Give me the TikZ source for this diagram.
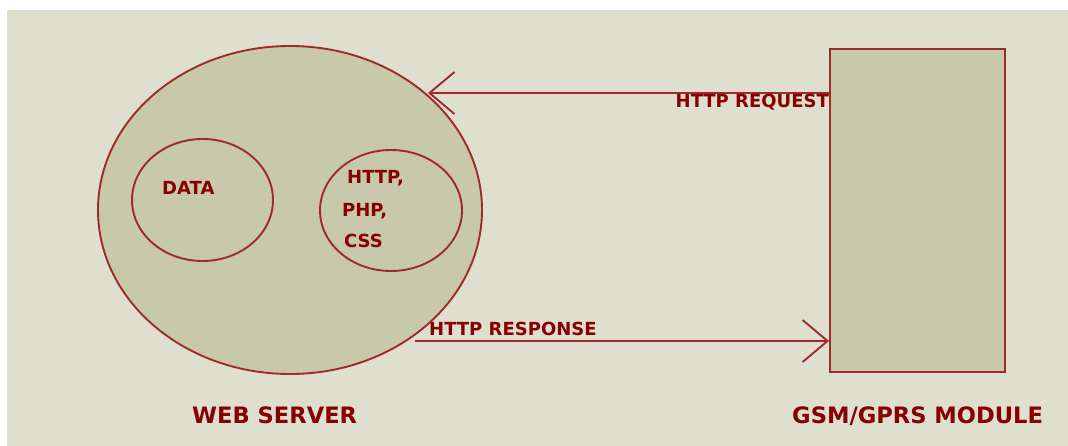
\documentclass[tikz,border=0pt]{standalone}
\usepackage{fontspec}
\setmainfont{DejaVu Sans}
\usetikzlibrary{shapes.geometric,arrows.meta}
\definecolor{bgc}{HTML}{DFDFD0}
\definecolor{fillc}{HTML}{C8C8AA}
\definecolor{linec}{HTML}{A02A2A}
\definecolor{textc}{HTML}{880000}
\tikzset{
  shapeline/.style={draw=linec, line width=1.9pt, fill=fillc, inner sep=0pt},
  inner/.style={draw=linec, line width=1.9pt, inner sep=0pt, ellipse},
  lbl/.style={text=textc, inner sep=0pt, font=\bfseries\fontsize{18}{20}\selectfont},
  biglbl/.style={text=textc, inner sep=0pt, font=\bfseries\fontsize{22.6}{24}\selectfont},
  conn/.style={draw=linec, line width=1.9pt, -{Straight Barb[length=25pt,width=42pt,line width=1.9pt]}}
}
\begin{document}
\begin{tikzpicture}[x=1pt,y=-1pt]
\useasboundingbox (0,0) rectangle (1068,446);
\fill[white] (0,0) rectangle (1068,446);
\fill[bgc] (7,10) rectangle (1068,446);
% web server
\node[shapeline, ellipse, minimum width=384pt, minimum height=328pt] (server) at (290,210) {};
\node[inner, minimum width=141pt, minimum height=122pt] (data) at (202.5,200) {};
\node[inner, minimum width=142pt, minimum height=121pt] (code) at (391,210.5) {};
\node[lbl, anchor=base west] (datat) at (162,195) {DATA};
\node[lbl, anchor=base west] (httpt) at (347,184) {HTTP,};
\node[lbl, anchor=base west] (phpt) at (342,216.5) {PHP,};
\node[lbl, anchor=base west] (csst) at (344,248) {CSS};
% module
\node[shapeline, rectangle, minimum width=175pt, minimum height=323pt] (module) at (917.5,210.5) {};
% connectors
\coordinate (reqtip) at (428,93);
\coordinate (resstart) at (415,341);
\draw[conn] (module.west |- reqtip) -- (reqtip);
\draw[conn] (resstart) -- (module.west |- resstart);
\node[lbl, anchor=base east] (reqt) at (829,108) {HTTP REQUEST};
\node[lbl, anchor=base west] (rest) at (429,335) {HTTP RESPONSE};
% captions
\node[biglbl, anchor=base west] (servert) at (192,423) {WEB SERVER};
\node[biglbl, anchor=base west] (modulet) at (792,423) {GSM/GPRS MODULE};
\end{tikzpicture}
\end{document}
